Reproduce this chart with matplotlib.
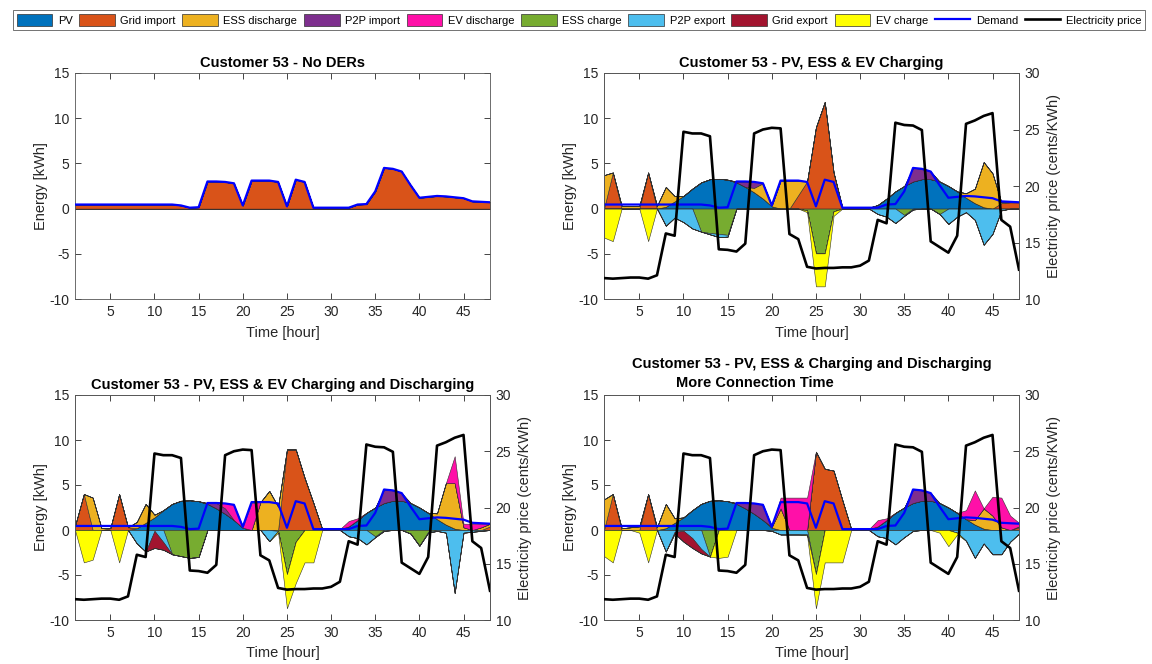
import numpy as np
import matplotlib
matplotlib.use('Agg')
import matplotlib.pyplot as plt
from matplotlib.patches import Patch
from matplotlib.lines import Line2D

plt.rcParams['font.family'] = ['Liberation Sans', 'DejaVu Sans']
plt.rcParams['axes.unicode_minus'] = False

hours = np.arange(1, 49)

# shared profiles
demand = [0.45, 0.45, 0.45, 0.45, 0.45, 0.45, 0.45, 0.45, 0.45, 0.45, 0.45, 0.45,
          0.35, 0.1, 0.15, 3.0, 3.0, 2.95, 2.8, 0.35, 3.1, 3.1, 3.1, 2.95,
          0.25, 3.2, 2.95, 0.1, 0.1, 0.1, 0.1, 0.1, 0.45, 0.5, 1.9, 4.5,
          4.4, 4.1, 2.6, 1.2, 1.3, 1.4, 1.35, 1.25, 1.15, 0.8, 0.75, 0.7]
price = [11.85, 11.8, 11.85, 11.9, 11.9, 11.8, 12.1, 15.8, 15.6, 24.8, 24.65, 24.65,
         24.4, 14.4, 14.35, 14.2, 14.9, 24.65, 25.0, 25.15, 25.1, 15.75, 15.3, 12.85,
         12.7, 12.75, 12.75, 12.8, 12.8, 12.95, 13.4, 17.0, 16.7, 25.6, 25.4, 25.35,
         24.95, 15.1, 14.6, 14.1, 15.6, 25.5, 25.8, 26.2, 26.45, 17.0, 16.4, 12.6]
pv = [0, 0, 0, 0, 0, 0, 0, 0.2, 0.8, 1.4, 2.2, 2.9,
      3.25, 3.3, 3.2, 2.9, 2.4, 1.8, 1.1, 0.25, 0, 0, 0, 0,
      0, 0, 0, 0, 0, 0, 0.05, 0.4, 1.1, 1.9, 2.5, 3.0,
      3.25, 3.25, 3.0, 2.5, 1.9, 1.2, 0.6, 0.15, 0, 0, 0, 0]
zeros = [0] * 48

# PV, ESS & EV charging
b_grid_imp = [0, 4.0, 0, 0, 0, 4.0, 0, 0, 0, 0, 0, 0,
              0, 0, 0, 0, 0, 0, 0, 0, 0, 0, 1.5, 3.0,
              9.0, 11.8, 4.0, 0.1, 0.1, 0.1, 0.05, 0, 0, 0, 0, 0,
              0, 0, 0, 0, 0, 0, 0, 0, 0, 0.6, 0.7, 0.7]
b_ess_dis = [3.7, 0, 0.3, 0.3, 0.3, 0, 0.3, 2.2, 0.6, 0, 0, 0,
             0, 0, 0, 0, 0, 0.5, 1.7, 0.1, 3.1, 3.1, 1.6, 0,
             0, 0, 0, 0, 0, 0, 0, 0, 0, 0, 0, 0,
             0, 0, 0, 0, 0, 0.5, 1.6, 5.0, 3.9, 0.1, 0, 0]
b_p2p_imp = [0, 0, 0, 0, 0, 0, 0, 0, 0, 0, 0, 0,
             0, 0, 0, 0.1, 0.6, 0.7, 0, 0, 0, 0, 0, 0,
             0, 0, 0, 0, 0, 0, 0, 0, 0, 0, 0, 1.5,
             1.15, 0.85, 0, 0, 0, 0, 0, 0, 0, 0, 0, 0]
b_ess_ch = [0, 0, 0, 0, 0, 0, 0, 0, 0, 0, 0, -2.55,
            -2.7, -2.8, -2.9, 0, 0, 0, 0, 0, 0, 0, 0, -0.2,
            -4.95, -4.95, -0.3, 0, 0, 0, 0, 0, 0, 0, -0.7, 0,
            0, 0, -0.6, 0, 0, 0, 0, 0, 0, 0, 0, 0]
b_p2p_exp = [0, 0, 0, 0, 0, 0, 0, -1.9, -1.0, -1.5, -2.2, 0,
             -0.15, -0.35, -0.2, 0, 0, 0, 0, 0, 0, 0, 0, 0,
             0, 0, 0, 0, 0, 0, 0, -0.6, -0.9, -1.6, -0.1, -0.1,
             0, 0, 0, -1.7, -0.9, -0.4, -1.25, -4.0, -2.8, -0.2, 0, 0]
b_ev_ch = [-3.2, -3.6, 0, 0, 0, -3.6, 0, 0, 0, 0, 0, 0,
           0, 0, 0, 0, 0, 0, 0, 0, 0, 0, 0, -0.2,
           -3.65, -3.65, -0.5, 0, 0, 0, 0, 0, 0, 0, 0, 0,
           0, 0, 0, 0, 0, 0, 0, 0, 0, 0, 0, 0]

# PV, ESS & EV charging and discharging
c_grid_imp = [0.45, 4.0, 0, 0, 0.2, 4.0, 0.3, 0, 0, 0, 0, 0,
              0, 0, 0, 0, 0, 0, 0, 0, 0, 0, 0, 0,
              8.95, 8.95, 5.8, 3.0, 0.1, 0.1, 0.05, 0, 0, 0, 0, 0,
              0, 0, 0, 0, 0, 0, 0, 0, 0, 0, 0, 0.4]
c_ess_dis = [0, 0, 3.6, 0.2, 0, 0, 0, 0.7, 2.1, 0.3, 0, 0,
             0, 0, 0, 0, 0, 0, 0, 0, 0, 3.1, 4.35, 2.6,
             0, 0, 0, 0, 0, 0, 0, 0, 0, 0, 0, 0,
             0, 0, 0, 0, 0, 0.65, 4.6, 5.05, 0.3, 0, 0.3, 0.3]
c_p2p_imp = [0, 0, 0, 0, 0, 0, 0, 0, 0, 0, 0, 0,
             0, 0, 0, 0.1, 0.6, 0.6, 0, 0, 0, 0, 0, 0,
             0, 0, 0, 0, 0, 0, 0, 0, 0, 0, 0, 1.5,
             1.15, 0.85, 0, 0, 0, 0, 0, 0, 0, 0, 0, 0]
c_ev_dis = [0, 0, 0, 0, 0, 0, 0, 0, 0, 0, 0, 0,
            0, 0, 0, 0, 0, 0.6, 1.7, 0.1, 3.0, 0, 0, 0,
            0, 0, 0, 0, 0, 0, 0, 0.6, 0.2, 0, 0, 0,
            0, 0, 0, 0, 0, 0, 0, 3.0, 0.4, 0.7, 0.4, 0]
c_ess_ch = [0, 0, 0, 0, 0, 0, 0, 0, 0, 0, 0, -2.7,
            -2.9, -3.1, -3.0, 0, 0, 0, 0, 0, 0, 0, 0, -0.1,
            -4.9, -1.3, 0, 0, 0, 0, 0, 0, 0, 0, -0.7, 0,
            0, 0, -0.4, -1.75, -0.2, 0, 0, 0, 0, 0, 0, 0]
c_p2p_exp = [0, 0, 0, 0, 0, 0, 0, -1.5, -2.4, -0.1, -1.35, 0,
             0, 0, 0, 0, 0, 0, 0, 0, 0, 0, -1.25, 0,
             0, 0, 0, 0, 0, 0, 0, -0.7, -0.9, -1.6, -0.1, -0.1,
             0, 0, 0, 0, -0.1, -0.1, -0.3, -7.0, -0.3, -0.2, -0.1, 0]
c_grid_exp = [0, 0, 0, 0, 0, 0, 0, 0, 0, -1.9, -0.85, 0,
              0, 0, 0, 0, 0, 0, 0, 0, 0, 0, 0, 0,
              0, 0, 0, 0, 0, 0, 0, 0, 0, 0, 0, 0,
              0, 0, 0, 0, 0, 0, 0, 0, 0, 0, 0, 0]
c_ev_ch = [0, -3.6, -3.3, 0, 0, -3.6, 0, 0, 0, 0, 0, 0,
           0, 0, 0, 0, 0, 0, 0, 0, 0, 0, 0, -0.2,
           -3.8, -4.6, -3.6, -3.6, 0, 0, 0, 0, 0, 0, 0, 0,
           0, 0, 0, 0, 0, 0, 0, 0, 0, 0, 0, 0]

# more connection time
d_grid_imp = [0, 4.0, 0, 0, 0, 4.0, 0, 0, 0, 0, 0, 0,
              0, 0, 0, 0, 0, 0, 0, 0, 0, 0, 0, 0,
              8.7, 6.8, 6.6, 3.3, 0.1, 0.1, 0.05, 0, 0, 0, 0, 0,
              0, 0, 0, 0, 0, 0, 0, 0, 0, 0, 0, 0.3]
d_ess_dis = [3.4, 0, 0.2, 0.3, 0.4, 0, 0.3, 2.7, 0.5, 0, 0, 0,
             0, 0, 0, 0, 0, 0, 0, 0.1, 2.4, 0, 0, 0,
             0, 0, 0, 0, 0, 0, 0, 0, 0, 0, 0, 0,
             0, 0, 0, 0, 0, 0, 0.5, 2.25, 1.6, 0.3, 0, 0.1]
d_p2p_imp = [0, 0, 0, 0, 0, 0, 0, 0, 0, 0, 0, 0,
             0, 0, 0, 0.1, 0.6, 1.2, 1.7, 0, 0, 0, 0, 0,
             0, 0, 0, 0, 0, 0, 0, 0, 0, 0, 0, 1.5,
             1.15, 0.85, 0, 0, 0, 0, 0, 0, 0, 0, 0, 0]
d_ev_dis = [0, 0, 0, 0, 0, 0, 0, 0, 0, 0, 0, 0,
            0, 0, 0, 0, 0, 0, 0, 0, 1.2, 3.6, 3.6, 3.6,
            0, 0, 0, 0, 0, 0, 0, 0.7, 0.2, 0, 0, 0,
            0, 0, 0, 0, 0, 1.0, 3.3, 0, 2.1, 3.3, 1.6, 0.4]
d_ess_ch = [0, 0, 0, 0, 0, 0, 0, 0, 0, 0, 0, 0,
            -2.96, 0, 0, 0, 0, 0, 0, 0, 0, 0, 0, 0,
            -4.9, 0, 0, 0, 0, 0, 0, 0, 0, 0, 0, 0,
            0, 0, 0, 0, 0, 0, 0, 0, 0, 0, 0, 0]
d_p2p_exp = [0, 0, 0, 0, 0, 0, 0, -2.4, -0.2, -0.1, -0.9, -2.1,
             0, 0, 0, 0, 0, 0, 0, -0.1, -0.5, -0.5, -0.5, -0.5,
             0, 0, 0, 0, 0, 0, 0, -0.7, -0.9, -1.6, -0.8, -0.1,
             0, 0, 0, 0, -0.3, -1.2, -3.1, -1.5, -2.7, -2.7, -1.3, -0.4]
d_grid_exp = [0, 0, 0, 0, 0, 0, 0, 0, -0.2, -1.2, -1.1, -0.5,
              0, 0, 0, 0, 0, 0, 0, 0, 0, 0, 0, 0,
              0, 0, 0, 0, 0, 0, 0, 0, 0, 0, 0, 0,
              0, 0, 0, 0, 0, 0, 0, 0, 0, 0, 0, 0]
d_ev_ch = [-2.9, -3.6, 0, 0, -0.3, -3.6, 0, 0, 0, 0, 0, 0,
           0, -3.1, -2.96, 0, 0, 0, 0, 0, 0, 0, 0, -0.1,
           -3.8, -3.6, -3.6, -3.6, 0, 0, 0, 0, 0, 0, 0, 0,
           0, 0, -0.3, -1.8, -0.2, 0, 0, 0, 0, 0, 0, 0]

names = ['PV', 'Grid import', 'ESS discharge', 'P2P import', 'EV discharge',
         'ESS charge', 'P2P export', 'Grid export', 'EV charge']
colors = ['#0072BD', '#D95319', '#EDB120', '#7E2F8E', '#FF10A8',
          '#77AC30', '#4DBEEE', '#A2142F', '#FFFF00']
txt = '#262626'
edge = '#303030'

W, H = 1152, 664
fig = plt.figure(figsize=(W / 100, H / 100), dpi=100)


def make_axes(left, top, right, bottom):
    return fig.add_axes([left / W, 1 - bottom / H, (right - left) / W, (bottom - top) / H])


def style(ax, right_ticks):
    ax.set_xlim(1, 48)
    ax.set_ylim(-10, 15)
    ax.set_xticks([5, 10, 15, 20, 25, 30, 35, 40, 45])
    ax.set_yticks([-10, -5, 0, 5, 10, 15])
    ax.tick_params(direction='in', length=4, width=0.6, top=True, right=right_ticks,
                   labelsize=10, colors=txt, pad=4)
    for s in ax.spines.values():
        s.set_color('#555555')
        s.set_linewidth(0.6)
    ax.set_xlabel('Time [hour]', fontsize=10.5, color=txt, labelpad=5)
    ax.set_ylabel('Energy [kWh]', fontsize=10.5, color=txt, labelpad=1)


def draw_stack(ax, series, idx):
    base = np.zeros(48)
    for s, i in zip(series, idx):
        top = base + np.array(s, dtype=float)
        ax.fill_between(hours, base, top, facecolor=colors[i], edgecolor=edge,
                        linewidth=0.4, zorder=2)
        base = top


def price_axis(ax):
    ax2 = ax.twinx()
    ax2.plot(hours, price, color='black', linewidth=1.9, zorder=5)
    ax2.set_ylim(10, 30)
    ax2.set_yticks([10, 15, 20, 25, 30])
    ax2.tick_params(direction='in', length=4, width=0.6, labelsize=10, colors=txt, pad=4)
    ax2.set_ylabel('Electricity price (cents/KWh)', fontsize=10.5, color=txt, labelpad=5)
    for s in ax2.spines.values():
        s.set_color('#555555')
        s.set_linewidth(0.6)
    return ax2


panels = [
    (75, 73, 490, 299, 'Customer 53 - No DERs',
     [zeros, demand, zeros, zeros, zeros], [zeros, zeros, zeros, zeros], False),
    (604, 73, 1019, 299, 'Customer 53 - PV, ESS & EV Charging',
     [pv, b_grid_imp, b_ess_dis, b_p2p_imp, zeros], [b_ess_ch, b_p2p_exp, zeros, b_ev_ch], True),
    (75, 395, 490, 620, 'Customer 53 - PV, ESS & EV Charging and Discharging',
     [pv, c_grid_imp, c_ess_dis, c_p2p_imp, c_ev_dis], [c_ess_ch, c_p2p_exp, c_grid_exp, c_ev_ch], True),
    (604, 395, 1019, 620, None,
     [pv, d_grid_imp, d_ess_dis, d_p2p_imp, d_ev_dis], [d_ess_ch, d_p2p_exp, d_grid_exp, d_ev_ch], True),
]

for left, top, right, bottom, title, pos, neg, has_price in panels:
    ax = make_axes(left, top, right, bottom)
    draw_stack(ax, pos, [0, 1, 2, 3, 4])
    if has_price:
        draw_stack(ax, neg, [5, 6, 7, 8])
    ax.plot(hours, demand, color='#0000FF', linewidth=1.6, zorder=4)
    style(ax, not has_price)
    if has_price:
        price_axis(ax)
    if title:
        ax.set_title(title, fontsize=10.5, fontweight='bold', color='black', pad=4)
    else:
        ax.text(0.5, 1.0 + 31 / 225, 'Customer 53 - PV, ESS & Charging and Discharging',
                transform=ax.transAxes, ha='center', va='center', fontsize=10.5,
                fontweight='bold', color='black')
        ax.text((676 - 604) / 415, 1.0 + 12 / 225, 'More Connection Time',
                transform=ax.transAxes, ha='left', va='center', fontsize=10.5,
                fontweight='bold', color='black')

handles = [Patch(facecolor=c, edgecolor=edge, linewidth=0.5) for c in colors]
handles += [Line2D([], [], color='#0000FF', linewidth=1.6),
            Line2D([], [], color='black', linewidth=1.9)]
labels = names + ['Demand', 'Electricity price']
leg = fig.legend(handles, labels, loc='center', bbox_to_anchor=(579 / W, 1 - 20 / H),
                 ncol=11, fontsize=8, handlelength=3.2, handleheight=1.4,
                 handletextpad=0.5, columnspacing=0.6, borderpad=0.35,
                 frameon=True, fancybox=False, edgecolor='#333333')
leg.get_frame().set_linewidth(0.6)

fig.savefig('out.png', dpi=100)
